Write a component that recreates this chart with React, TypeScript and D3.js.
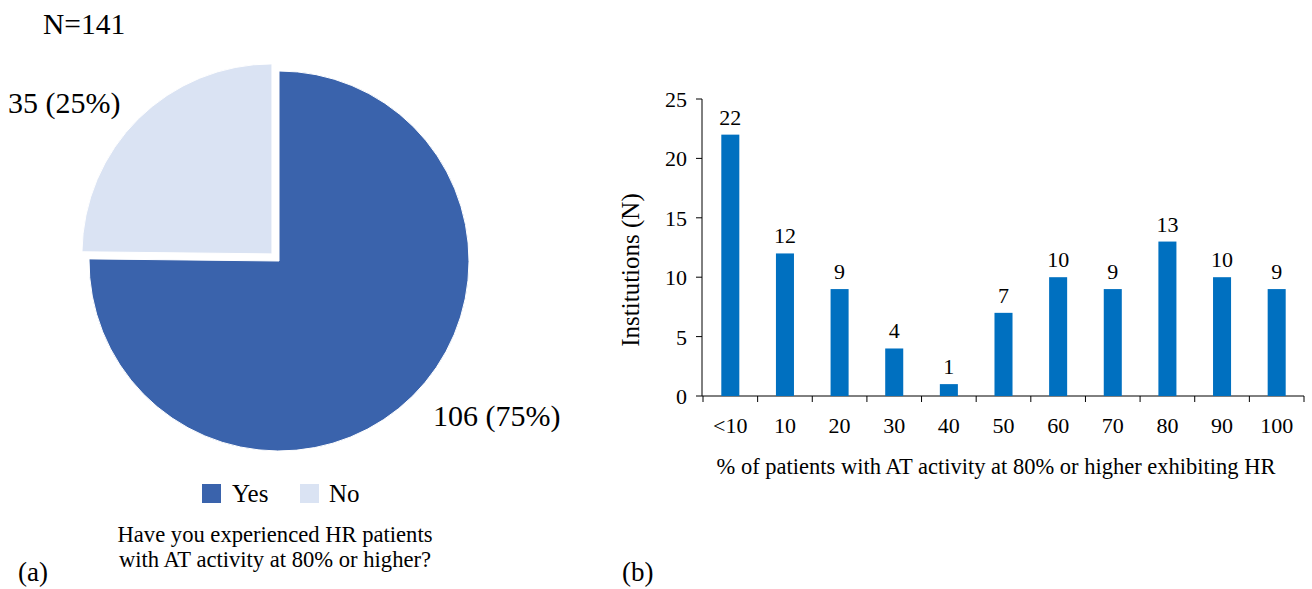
import React from "react";
import * as d3 from "d3";

const pieLabels = ["Yes", "No"];
const pieValues = [106, 35];
const piePercents = ["75%", "25%"];
const pieColors = ["#3A63AC", "#DAE3F3"];

const barCategories = ["<10", "10", "20", "30", "40", "50", "60", "70", "80", "90", "100"];
const barValues = [22, 12, 9, 4, 1, 7, 10, 9, 13, 10, 9];
const yTicks = [0, 5, 10, 15, 20, 25];

const FONT = "'Liberation Serif', 'Times New Roman', serif";

export default function App() {
  const W = 1312, H = 589;
  const cx = 279, cy = 261, r = 190;
  const pie = d3.pie<number>().sort(null).startAngle(0).endAngle(2 * Math.PI);
  const arcs = pie(pieValues);
  const arcGen = d3.arc<d3.PieArcDatum<number>>().innerRadius(0).outerRadius(r);
  const explode = [0, 10];

  const x = d3.scaleBand<string>().domain(barCategories).range([703, 1304]).paddingInner(0.67).paddingOuter(0.335);
  const xb = d3.scaleBand<string>().domain(barCategories).range([703, 1304]);
  const y = d3.scaleLinear().domain([0, 25]).range([396, 99]);

  return (
    <svg width={W} height={H} style={{ position: "absolute", left: 0, top: 0, background: "#fff" }} fontFamily={FONT}>
      <text x={43} y={34} fontSize={29.5} fill="#000">N=141</text>
      {arcs.map((a, i) => {
        const mid = (a.startAngle + a.endAngle) / 2;
        const dx = Math.sin(mid) * explode[i];
        const dy = -Math.cos(mid) * explode[i];
        return (
          <path key={i} d={arcGen(a) || ""} transform={`translate(${cx + dx},${cy + dy})`} fill={pieColors[i]} stroke="#fff" strokeWidth={1} />
        );
      })}
      <text x={8} y={113} fontSize={30} fill="#000">{`${pieValues[1]} (${piePercents[1]})`}</text>
      <text x={433} y={426} fontSize={30} fill="#000">{`${pieValues[0]} (${piePercents[0]})`}</text>
      <rect x={202} y={484} width={19} height={19} fill={pieColors[0]} />
      <text x={232} y={502} fontSize={25} fill="#000">{pieLabels[0]}</text>
      <rect x={300} y={484} width={19} height={19} fill={pieColors[1]} />
      <text x={329} y={502} fontSize={25} fill="#000">{pieLabels[1]}</text>
      <text x={275} y={542} fontSize={22.6} textAnchor="middle" fill="#000">Have you experienced HR patients</text>
      <text x={275} y={567} fontSize={22.6} textAnchor="middle" fill="#000">with AT activity at 80% or higher?</text>
      <text x={18} y={581} fontSize={27} fill="#000">(a)</text>
      <text x={622} y={581} fontSize={27} fill="#000">(b)</text>

      <line x1={702} x2={702} y1={y(25)} y2={y(0)} stroke="#000" strokeWidth={1} />
      {yTicks.map((t) => (
        <g key={t}>
          <line x1={696} x2={702} y1={y(t)} y2={y(t)} stroke="#000" />
          <text x={687} y={y(t) + 8} fontSize={22} textAnchor="end" fill="#000">{t}</text>
        </g>
      ))}
      <line x1={702} x2={1304} y1={y(0)} y2={y(0)} stroke="#000" />
      {barCategories.map((c) => (
        <line key={"t" + c} x1={xb(c)!} x2={xb(c)!} y1={y(0)} y2={y(0) + 6} stroke="#000" />
      ))}
      <line x1={1304} x2={1304} y1={y(0)} y2={y(0) + 6} stroke="#000" />
      {barCategories.map((c, i) => (
        <g key={c}>
          <rect x={x(c)!} y={y(barValues[i])} width={x.bandwidth()} height={y(0) - y(barValues[i])} fill="#0070C0" />
          <text x={x(c)! + x.bandwidth() / 2} y={y(barValues[i]) - 10} fontSize={22} textAnchor="middle" fill="#000">{barValues[i]}</text>
          <text x={xb(c)! + xb.bandwidth() / 2} y={433} fontSize={22} textAnchor="middle" fill="#000">{c}</text>
        </g>
      ))}
      <text transform={`translate(639,270) rotate(-90)`} fontSize={25} textAnchor="middle" fill="#000">Institutions (N)</text>
      <text x={996} y={474} fontSize={22.5} textAnchor="middle" fill="#000">% of patients with AT activity at 80% or higher exhibiting HR</text>
    </svg>
  );
}
